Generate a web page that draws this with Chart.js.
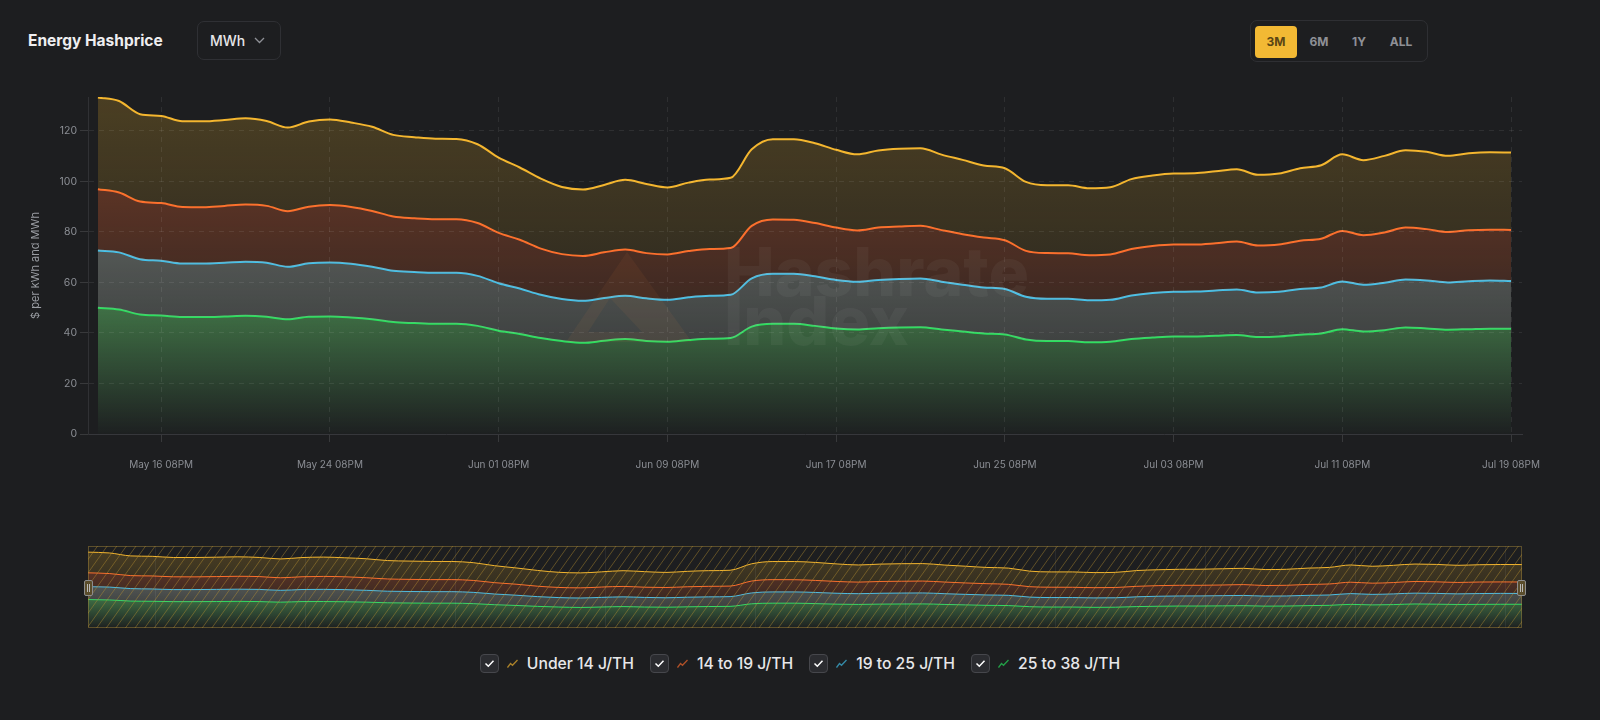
<!DOCTYPE html>
<html>
<head>
<meta charset="utf-8">
<title>Energy Hashprice</title>
<script src="https://cdn.jsdelivr.net/npm/chart.js@4.4.1/dist/chart.umd.min.js"></script>
<style>
  html, body { margin: 0; padding: 0; background: #1d1e20; }
  body { width: 1600px; height: 720px; position: relative; overflow: hidden;
         font-family: Inter, "Noto Sans", sans-serif; color: #e8e8ea; }
  .title { position: absolute; left: 28px; top: 31px; font-size: 15.5px; font-weight: 700; line-height: 20px; color: #eeeef0; }
  .unit { position: absolute; left: 197px; top: 21px; width: 84px; height: 39px; box-sizing: border-box;
          border: 1px solid #2f3034; border-radius: 7px; }
  .unit span { position: absolute; left: 12px; top: 10px; font-size: 14px; font-weight: 500; line-height: 18px; color: #e6e6e8; }
  .unit svg { position: absolute; }
  .range { position: absolute; left: 1250px; top: 20px; width: 178px; height: 42px; box-sizing: border-box;
           border: 1px solid #2e2f33; border-radius: 7px; }
  .range div { position: absolute; top: 5px; height: 32px; line-height: 32px; font-size: 12px; font-weight: 700;
               color: #8e9096; text-align: center; border-radius: 4px; }
  .range .on { background: #f2b934; color: #5b4614; }
  #main { position: absolute; left: 0; top: 0; }
  #nav { position: absolute; left: 88px; top: 546px; }
  .handle { position: absolute; top: 580px; width: 9px; height: 16px; box-sizing: border-box;
            border: 1px solid #8d8d8d; border-radius: 2px; background: #5a4d2c; }
  .handle::before, .handle::after { content: ""; position: absolute; top: 3px; width: 1px; height: 8px; background: #b9b9b9; }
  .handle::before { left: 2px; } .handle::after { left: 4px; }
  .legend { position: absolute; left: 0; top: 653px; width: 1600px; height: 20px; display: flex;
            justify-content: center; align-items: center; gap: 16px; }
  .item { display: flex; align-items: center; font-size: 15.7px; font-weight: 500; color: #e7e7e9; }
  .box { width: 19px; height: 19px; box-sizing: border-box; border: 1px solid #46474c; border-radius: 4px;
         background: #2b2c30; margin-right: 8px; display: flex; align-items: center; justify-content: center; }
  .trend { margin-right: 9px; opacity: 0.65; }
</style>
</head>
<body>
<div class="title">Energy Hashprice</div>
<div class="unit"><span>MWh</span>
  <svg style="left:56px;top:15px" width="11" height="7" viewBox="0 0 11 7"><polyline points="1,1 5.5,5.5 10,1" fill="none" stroke="#8e9096" stroke-width="1.3"/></svg>
</div>
<div class="range">
  <div class="on" style="left:4px;width:42px">3M</div>
  <div style="left:52px;width:32px">6M</div>
  <div style="left:92px;width:32px">1Y</div>
  <div style="left:130px;width:40px">ALL</div>
</div>

<canvas id="main" width="1600" height="500"></canvas>
<canvas id="nav" width="1434" height="82"></canvas>
<div class="handle" style="left:84px"></div>
<div class="handle" style="left:1517px"></div>

<div class="legend" id="legend"></div>

<script>
// daily values, May 13 08PM .. Jul 19 08PM ($ per MWh)
const under14 = [133.2, 131.8, 126.6, 125.9, 123.8, 123.8, 124.3, 125.0, 123.9, 121.3, 123.7, 124.5, 123.3, 121.6,
  118.4, 117.5, 116.9, 116.8, 114.7, 109.4, 105.5, 101.1, 97.8, 96.8, 98.6, 100.6, 99.0, 97.6, 99.5, 100.7, 101.4,
  112.7, 116.7, 116.7, 115.1, 112.5, 110.7, 112.2, 112.9, 113.1, 110.6, 108.5, 106.3, 105.2, 99.8, 98.5, 98.5, 97.3,
  97.7, 100.9, 102.3, 103.1, 103.2, 104.0, 104.8, 102.6, 103.1, 105.2, 106.4, 110.7, 108.4, 110.1, 112.3, 111.7,
  110.1, 111.1, 111.5, 111.4];
const from14to19 = [96.9, 95.6, 92.0, 91.4, 89.9, 89.8, 90.3, 90.8, 90.3, 88.2, 90.0, 90.6, 89.9, 88.3, 86.1, 85.4,
  85.0, 85.0, 83.5, 79.6, 76.9, 73.4, 71.2, 70.5, 71.9, 73.0, 71.6, 71.1, 72.4, 73.2, 73.6, 82.4, 84.9, 84.8, 83.5,
  81.7, 80.6, 81.7, 82.1, 82.4, 80.7, 79.1, 77.8, 76.7, 72.5, 71.6, 71.5, 70.8, 71.1, 73.2, 74.4, 75.0, 75.0, 75.5,
  76.2, 74.6, 75.0, 76.5, 77.3, 80.4, 78.7, 79.8, 81.7, 81.1, 80.0, 80.7, 80.9, 80.8];
const from19to25 = [72.6, 71.9, 69.2, 68.6, 67.5, 67.5, 67.8, 68.2, 67.8, 66.2, 67.6, 67.9, 67.4, 66.2, 64.6, 64.1,
  63.8, 63.8, 62.6, 59.7, 57.6, 55.1, 53.4, 52.7, 53.8, 54.7, 53.7, 53.1, 54.1, 54.7, 55.1, 61.6, 63.4, 63.4, 62.4,
  61.0, 60.3, 61.0, 61.4, 61.6, 60.3, 59.1, 58.0, 57.4, 54.3, 53.5, 53.5, 52.9, 53.1, 54.8, 55.8, 56.3, 56.4, 56.8,
  57.2, 56.0, 56.3, 57.4, 58.0, 60.4, 59.1, 59.9, 61.2, 60.8, 60.0, 60.5, 60.8, 60.6];
const from25to38 = [50.0, 49.3, 47.3, 46.9, 46.3, 46.3, 46.5, 46.8, 46.4, 45.4, 46.4, 46.5, 46.1, 45.4, 44.3, 43.9,
  43.6, 43.6, 42.8, 40.9, 39.6, 38.0, 36.8, 36.1, 36.9, 37.6, 36.8, 36.5, 37.2, 37.7, 38.0, 42.5, 43.6, 43.6, 42.8,
  41.8, 41.4, 41.9, 42.2, 42.3, 41.4, 40.6, 39.8, 39.4, 37.4, 36.8, 36.8, 36.3, 36.5, 37.6, 38.2, 38.6, 38.6, 38.9,
  39.2, 38.4, 38.6, 39.3, 39.8, 41.5, 40.6, 41.1, 42.2, 41.8, 41.3, 41.5, 41.7, 41.7];

const seriesNames = ['Under 14 J/TH', '14 to 19 J/TH', '19 to 25 J/TH', '25 to 38 J/TH'];
const tickDays = [3, 11, 19, 27, 35, 43, 51, 59, 67];
const tickLabels = ['May 16 08PM', 'May 24 08PM', 'Jun 01 08PM', 'Jun 09 08PM', 'Jun 17 08PM',
  'Jun 25 08PM', 'Jul 03 08PM', 'Jul 11 08PM', 'Jul 19 08PM'];
const yTicks = [0, 20, 40, 60, 80, 100, 120];

const lineColors = ['#f4b62f', '#fb6b2d', '#41c4ef', '#27e35c'];
// fill colour + alpha stops (fraction of plot height) for each band
const fillStyles = [
  { rgb: '246,185,45', stops: [[0, 0.21], [1, 0]] },
  { rgb: '255,109,51', stops: [[0, 0.38], [1, 0]] },
  { rgb: '150,158,150', stops: [[0, 0.72], [1, 0.12]] },
  { rgb: '66,118,72', stops: [[0, 1], [0.6, 1], [1, 0.03]] }
];
const fillTargets = ['+1', '+1', '+1', 'origin'];
const allSeries = [under14, from14to19, from19to25, from25to38];

function bandGradient(chart, style) {
  const { ctx, chartArea } = chart;
  if (!chartArea) return 'transparent';
  const g = ctx.createLinearGradient(0, chartArea.top, 0, chartArea.bottom);
  style.stops.forEach(([f, a]) => g.addColorStop(f, 'rgba(' + style.rgb + ',' + a + ')'));
  return g;
}

function makeDatasets(lineWidth) {
  return allSeries.map((vals, k) => ({
    label: seriesNames[k],
    data: vals.map((v, i) => ({ x: i, y: v })),
    borderColor: lineColors[k],
    borderWidth: lineWidth,
    pointRadius: 0,
    cubicInterpolationMode: 'monotone',
    fill: fillTargets[k],
    backgroundColor: (c) => bandGradient(c.chart, fillStyles[k])
  }));
}

const watermark = {
  id: 'watermark',
  afterDatasetsDraw(chart) {
    const ctx = chart.ctx;
    ctx.save();
    // logo mark
    ctx.fillStyle = 'rgba(255,150,70,0.06)';
    ctx.beginPath();
    ctx.moveTo(627, 252); ctx.lineTo(692, 342); ctx.lineTo(566, 342); ctx.closePath();
    ctx.moveTo(610, 298); ctx.lineTo(588, 332); ctx.lineTo(642, 332); ctx.closePath();
    ctx.fill('evenodd');
    // text
    ctx.fillStyle = 'rgba(255,255,255,0.045)';
    let size = 60;
    ctx.font = '800 ' + size + 'px Inter';
    size = size * 305 / ctx.measureText('Hashrate').width;
    ctx.font = '800 ' + size.toFixed(1) + 'px Inter';
    ctx.textBaseline = 'alphabetic';
    ctx.fillText('Hashrate', 724, 296);
    ctx.fillText('Index', 724, 345);
    ctx.restore();
  }
};

new Chart(document.getElementById('main'), {
  type: 'line',
  data: { datasets: makeDatasets(2) },
  options: {
    responsive: false,
    animation: false,
    devicePixelRatio: 1,
    layout: { padding: { top: 97, right: 78, left: 0, bottom: 0 } },
    plugins: { legend: { display: false }, tooltip: { enabled: false } },
    scales: {
      x: {
        type: 'linear', min: -0.47, max: 67.52,
        afterFit: (s) => { s.height = 66; },
        afterBuildTicks: (s) => { s.ticks = tickDays.map(v => ({ value: v })); },
        ticks: {
          color: '#8b8e94', font: { family: 'Inter', size: 10 }, padding: 17, maxRotation: 0,
          callback: (v) => tickLabels[tickDays.indexOf(v)]
        },
        grid: { color: 'rgba(255,255,255,0.08)', tickColor: 'rgba(255,255,255,0.12)', tickLength: 8, z: 1 },
        border: { color: '#36373b', dash: [5, 5], z: 2 }
      },
      y: {
        min: 0, max: 133.4,
        afterFit: (s) => { s.width = 88; },
        afterBuildTicks: (s) => { s.ticks = yTicks.map(v => ({ value: v })); },
        ticks: { color: '#8b8e94', font: { family: 'Inter', size: 10.5 }, padding: 3 },
        grid: { color: 'rgba(255,255,255,0.08)', tickColor: 'rgba(255,255,255,0.12)', tickLength: 8, z: 1 },
        border: { color: '#303134', dash: [5, 5], z: 2 },
        title: {
          display: true, text: '$ per kWh and MWh', color: '#9a9da3',
          font: { family: 'Inter', size: 11 }, padding: { top: 29, bottom: 0 }
        }
      }
    }
  },
  plugins: [watermark]
});

const navOverlay = {
  id: 'navOverlay',
  afterDraw(chart) {
    const { ctx, chartArea: a } = chart;
    ctx.save();
    ctx.beginPath(); ctx.rect(a.left, a.top, a.width, a.height); ctx.clip();
    ctx.strokeStyle = 'rgba(255,255,255,0.06)';
    ctx.lineWidth = 1;
    ctx.beginPath();
    for (let x = a.left + 67; x < a.right; x += 150) { ctx.moveTo(x + 0.5, a.top); ctx.lineTo(x + 0.5, a.bottom); }
    ctx.stroke();
    ctx.strokeStyle = 'rgba(190,150,50,0.42)';
    ctx.beginPath();
    const dx = a.height / 1.4;
    for (let x = a.left - dx; x < a.right + dx; x += 9.6) { ctx.moveTo(x, a.bottom); ctx.lineTo(x + dx, a.top); }
    ctx.stroke();
    ctx.restore();
    ctx.save();
    ctx.strokeStyle = 'rgba(170,140,60,0.45)';
    ctx.strokeRect(a.left + 0.5, a.top + 0.5, a.width - 1, a.height - 1);
    ctx.restore();
  }
};

new Chart(document.getElementById('nav'), {
  type: 'line',
  data: { datasets: makeDatasets(1) },
  options: {
    responsive: false,
    animation: false,
    devicePixelRatio: 1,
    layout: { padding: 0 },
    plugins: { legend: { display: false }, tooltip: { enabled: false } },
    scales: {
      x: { type: 'linear', min: 0, max: 67, display: false },
      y: { min: 0, max: 144, display: false }
    }
  },
  plugins: [navOverlay]
});

// legend
const legend = document.getElementById('legend');
seriesNames.forEach((name, k) => {
  const item = document.createElement('div');
  item.className = 'item';
  item.innerHTML =
    '<div class="box"><svg width="11" height="9" viewBox="0 0 11 9"><polyline points="1.5,4.5 4.3,7.2 9.5,1.8" fill="none" stroke="#ffffff" stroke-width="1.5"/></svg></div>' +
    '<svg class="trend" width="11" height="9" viewBox="0 0 11 9"><polyline points="0.5,8.5 3.5,4.5 5.5,6.3 10.5,1" fill="none" stroke="' + lineColors[k] + '" stroke-width="1.3"/></svg>' +
    '<span>' + name + '</span>';
  legend.appendChild(item);
});
</script>
</body>
</html>
